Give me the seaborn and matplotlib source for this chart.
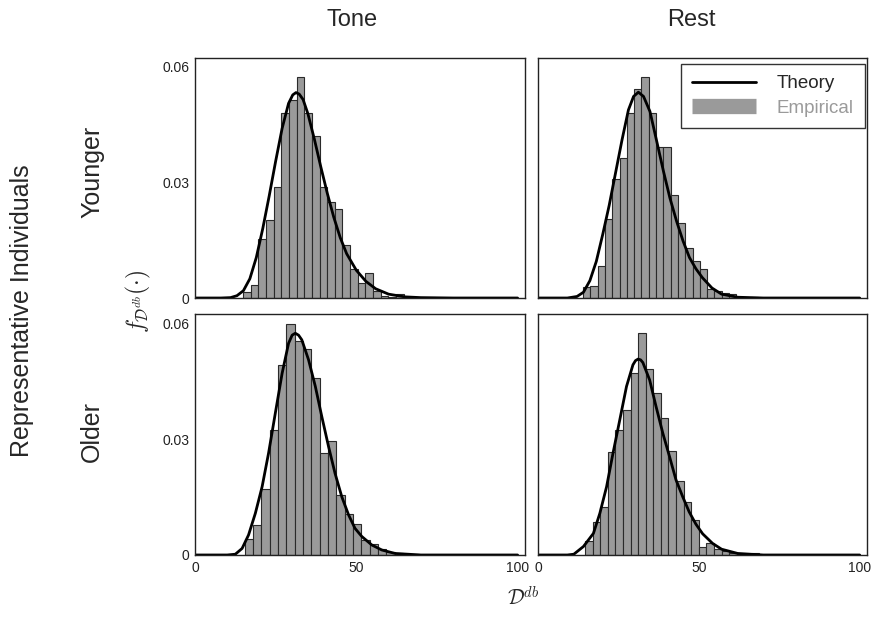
import numpy as np
import pandas as pd
import matplotlib as mpl
import matplotlib.pyplot as plt
from matplotlib.lines import Line2D
import seaborn as sns

sns.set_style("white")
plt.rcParams['font.family'] = ['Liberation Sans', 'DejaVu Sans']
plt.rcParams['mathtext.fontset'] = 'cm'

# histogram bins: first edge and bin width, then density of each bin
tone_young_start, tone_young_width = 14.9, 2.37
tone_young_hist = [0.0015, 0.0035, 0.0153, 0.0203, 0.0288, 0.0479, 0.0514, 0.0573, 0.0481,
                   0.0421, 0.0288, 0.0248, 0.0231, 0.0137, 0.0074, 0.0040, 0.0064, 0.0017,
                   0.0006, 0.0002, 0.0011]
rest_young_start, rest_young_width = 13.9, 2.27
rest_young_hist = [0.0028, 0.0030, 0.0082, 0.0205, 0.0310, 0.0363, 0.0480, 0.0543, 0.0573,
                   0.0480, 0.0391, 0.0391, 0.0268, 0.0195, 0.0130, 0.0095, 0.0075, 0.0024,
                   0.0019, 0.0012, 0.0010, 0.0002, 0.0, 0.0003]
tone_old_start, tone_old_width = 15.4, 2.58
tone_old_hist = [0.0041, 0.0078, 0.0171, 0.0323, 0.0493, 0.0599, 0.0554, 0.0534, 0.0458,
                 0.0264, 0.0296, 0.0156, 0.0106, 0.0080, 0.0039, 0.0028, 0.0016, 0.0009,
                 0.0004, 0.0002, 0.0002, 0.0001, 0.0, 0.0001, 0.0, 0.0001]
rest_old_start, rest_old_width = 14.5, 2.36
rest_old_hist = [0.0037, 0.0086, 0.0124, 0.0266, 0.0324, 0.0376, 0.0471, 0.0575, 0.0483,
                 0.0421, 0.0355, 0.0270, 0.0192, 0.0138, 0.0091, 0.0020, 0.0030, 0.0015,
                 0.0011, 0.0005, 0.0002, 0.0, 0.0005]

# theoretical density curves
tone_young_cx = [0, 8, 11, 13, 15, 17, 19, 21, 23, 25, 27, 29, 30.3, 31.3, 32.3, 33.5, 35, 37,
                 39, 41, 43, 45, 47, 50, 53, 56, 60, 65, 70, 80, 100]
tone_young_cy = [0, 0, 0.0001, 0.0006, 0.0019, 0.0050, 0.0105, 0.0180, 0.0265, 0.0355, 0.0440,
                 0.0505, 0.0527, 0.0533, 0.0529, 0.0515, 0.0478, 0.0412, 0.0340, 0.0272,
                 0.0210, 0.0157, 0.0115, 0.0072, 0.0043, 0.0024, 0.0010, 0.0003, 0.0001, 0, 0]
rest_young_cx = [0, 9, 12, 14, 16, 18, 20, 22, 24, 26, 28, 29.6, 31.1, 32.7, 34.7, 36.8, 38.9,
                 40.9, 43, 45, 47, 49, 51, 54, 57, 62, 70, 100]
rest_young_cy = [0, 0, 0.0004, 0.0015, 0.0045, 0.0095, 0.0165, 0.0240, 0.0325, 0.0410, 0.0488,
                 0.0523, 0.0534, 0.0523, 0.0484, 0.0407, 0.0329, 0.0260, 0.0199, 0.0148,
                 0.0105, 0.0076, 0.0053, 0.0026, 0.0010, 0.0002, 0, 0]
tone_old_cx = [0, 10, 12.5, 14.6, 16.6, 18.7, 20.8, 22.8, 24.9, 27.0, 29.0, 30.1, 31.1, 32.1,
               33.1, 35.2, 37.3, 39.3, 41.4, 43.4, 45.5, 47.6, 49.6, 51.7, 54.8, 57.9, 62,
               70, 100]
tone_old_cy = [0, 0, 0.0002, 0.0017, 0.0052, 0.0108, 0.0177, 0.0264, 0.0368, 0.0471, 0.0549,
               0.0570, 0.0575, 0.0570, 0.0558, 0.0506, 0.0437, 0.0359, 0.0281, 0.0212,
               0.0151, 0.0104, 0.0069, 0.0048, 0.0026, 0.0013, 0.0004, 0, 0]
rest_old_cx = [0, 9, 11, 14.0, 17.1, 19.1, 21.2, 23.2, 25.3, 27.4, 29.4, 30.2, 31.0, 31.8,
               32.5, 34.6, 36.6, 38.7, 40.8, 42.8, 44.9, 46.9, 49, 51.1, 54.2, 57, 62, 70, 100]
rest_old_cy = [0, 0, 0.0002, 0.0022, 0.0056, 0.0108, 0.0177, 0.0264, 0.0350, 0.0437, 0.0493,
               0.0504, 0.0508, 0.0506, 0.0499, 0.0454, 0.0385, 0.0316, 0.0255, 0.0195,
               0.0151, 0.0112, 0.0080, 0.0055, 0.0030, 0.0015, 0.0004, 0, 0]

y_ticks = [0, 0.03, 0.06]
y_ticklabels = ["0", "0.03", "0.06"]
x_ticks = [0, 50, 100]
x_ticklabels = ["0", "50", "100"]

bar_gray = "#9a9a9a"

fig = plt.figure(figsize=(8.78, 6.17), dpi=100)

panels = [
    ([0.2221, 0.5170, 0.3759, 0.3898], tone_young_start, tone_young_width, tone_young_hist, tone_young_cx, tone_young_cy),
    ([0.6133, 0.5170, 0.3743, 0.3898], rest_young_start, rest_young_width, rest_young_hist, rest_young_cx, rest_young_cy),
    ([0.2221, 0.1005, 0.3759, 0.3900], tone_old_start, tone_old_width, tone_old_hist, tone_old_cx, tone_old_cy),
    ([0.6133, 0.1005, 0.3743, 0.3900], rest_old_start, rest_old_width, rest_old_hist, rest_old_cx, rest_old_cy),
]

axes = []
for i, (pos, start, width, hist, cx, cy) in enumerate(panels):
    ax = fig.add_axes(pos)
    edges = start + width * np.arange(len(hist) + 1)
    hist_df = pd.DataFrame({"center": (edges[:-1] + edges[1:]) / 2, "density": hist})
    sns.histplot(data=hist_df, x="center", weights="density", bins=list(edges), stat="count",
                 color=bar_gray, alpha=1, edgecolor="#2a2a2a", linewidth=0.8, ax=ax)
    curve_df = pd.DataFrame({"x": cx, "y": cy})
    sns.lineplot(data=curve_df, x="x", y="y", color="black", linewidth=2, ax=ax)
    ax.set_xlim(0, 102.3)
    ax.set_ylim(0, 0.0624)
    ax.set_xlabel("")
    ax.set_ylabel("")
    ax.set_yticks(y_ticks)
    ax.set_xticks(x_ticks)
    ax.tick_params(length=0, labelsize=10, pad=4, labelcolor="#222222")
    if i % 2 == 0:
        ax.set_yticklabels(y_ticklabels)
    else:
        ax.set_yticklabels([])
    if i >= 2:
        ax.set_xticklabels(x_ticklabels)
    else:
        ax.set_xticklabels([])
    for s in ax.spines.values():
        s.set_color("#222222")
        s.set_linewidth(1)
    axes.append(ax)

handles = [Line2D([], [], color="black", lw=2),
           Line2D([], [], color=bar_gray, lw=11, solid_capstyle="butt")]
leg = axes[1].legend(handles, ["Theory", "Empirical"], loc="upper right",
                     bbox_to_anchor=(865 / 878, 1 - 64 / 617), bbox_transform=fig.transFigure,
                     borderaxespad=0, fancybox=False, edgecolor="#333333", framealpha=1,
                     fontsize=13.5, handlelength=3.4, handletextpad=1.1, labelspacing=0.4,
                     borderpad=0.6)
leg.get_frame().set_linewidth(1)
leg.get_texts()[1].set_color(bar_gray)

fig.text(0.401, 0.967, "Tone", ha="center", va="center", fontsize=17)
fig.text(0.788, 0.967, "Rest", ha="center", va="center", fontsize=17)
fig.text(0.105, 0.721, "Younger", ha="center", va="center", rotation=90, fontsize=18)
fig.text(0.105, 0.300, "Older", ha="center", va="center", rotation=90, fontsize=18)
fig.text(0.025, 0.497, "Representative Individuals", ha="center", va="center", rotation=90, fontsize=18)
fig.text(0.158, 0.512, r"$f_{\mathcal{D}^{db}}(\cdot)$", ha="center", va="center", rotation=90, fontsize=17)
fig.text(0.596, 0.031, r"$\mathcal{D}^{db}$", ha="center", va="center", fontsize=15)

fig.savefig("out.png", dpi=100)
